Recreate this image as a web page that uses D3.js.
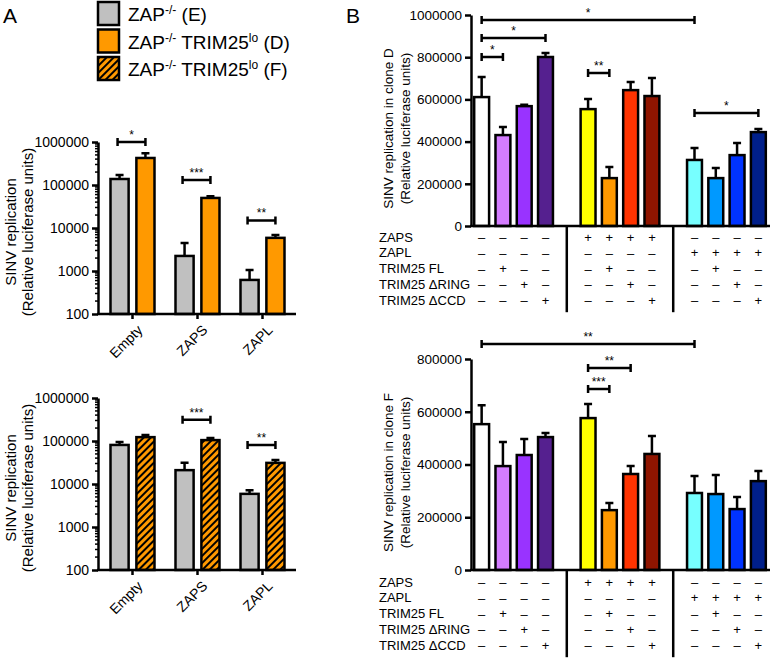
<!DOCTYPE html>
<html>
<head>
<meta charset="utf-8">
<script src="https://cdn.jsdelivr.net/npm/d3@7"></script>
<style>
  body { margin: 0; background: #fff; }
  svg { display: block; }
  text { font-family: "Liberation Sans", Arial, sans-serif; fill: #000; }
</style>
</head>
<body>
<svg id="fig" width="772" height="660"></svg>
<script>
// ---- panel A data (log scale) ----
var groupsA = ['Empty', 'ZAPS', 'ZAPL'];
var logTicks = [100, 1000, 10000, 100000, 1000000];
var topE = [138000, 2240, 620], topE_err = [32000, 2230, 430];
var topD = [425000, 50000, 5900], topD_err = [125000, 5000, 1000];
var botE = [81000, 21000, 5900], botE_err = [14000, 10000, 1300];
var botF = [123000, 105000, 31000], botF_err = [15000, 12000, 5000];
var sigTopA = [{g: 0, y: 1000000, t: '*'}, {g: 1, y: 130000, t: '***'}, {g: 2, y: 15000, t: '**'}];
var sigBotA = [{g: 1, y: 310000, t: '***'}, {g: 2, y: 81000, t: '**'}];

// ---- panel B data (linear) ----
var barColors = ['#ffffff', '#d47cff', '#9933ff', '#55208f',
                 '#ffff00', '#ff9900', '#ff3300', '#8f1500',
                 '#77ffff', '#0099ff', '#0033ff', '#001f8a'];
var cloneD = [611000, 431000, 568000, 801000, 554000, 227000, 644000, 616000, 313000, 227000, 336000, 445000];
var cloneD_err = [95000, 38000, 7000, 19000, 48000, 53000, 38000, 85000, 57000, 48000, 57000, 15000];
var cloneF = [553000, 394000, 436000, 504000, 576000, 227000, 364000, 440000, 292000, 288000, 231000, 337000];
var cloneF_err = [72000, 91000, 61000, 15000, 53000, 27000, 30000, 68000, 64000, 72000, 46000, 38000];
var ticksD = [0, 200000, 400000, 600000, 800000, 1000000];
var ticksF = [0, 200000, 400000, 600000, 800000];
var sigD = [{a: 0, b: 8, y: 976000, t: '*'}, {a: 0, b: 3, y: 891000, t: '*'}, {a: 0, b: 1, y: 801000, t: '*'},
            {a: 4, b: 5, y: 725000, t: '**'}, {a: 8, b: 11, y: 536000, t: '*'}];
var sigF = [{a: 0, b: 8, y: 857000, t: '**'}, {a: 4, b: 6, y: 766000, t: '**'}, {a: 4, b: 5, y: 686000, t: '***'}];
var rowLabels = ['ZAPS', 'ZAPL', 'TRIM25 FL', 'TRIM25 \u0394RING', 'TRIM25 \u0394CCD'];
var rowSigns = ['----++++----',
                '--------++++',
                '-+---+---+--',
                '--+---+---+-',
                '---+---+---+'];

var GRAY = '#c0c0c0', ORANGE = '#ff9900', SW = 2.5;
var svg = d3.select('#fig');

// hatch for clone F
var pat = svg.append('defs').append('pattern')
  .attr('id', 'hatch').attr('patternUnits', 'userSpaceOnUse')
  .attr('width', 5).attr('height', 5).attr('patternTransform', 'rotate(45)');
pat.append('rect').attr('width', 5).attr('height', 5).attr('fill', ORANGE);
pat.append('line').attr('x1', 1).attr('y1', 0).attr('x2', 1).attr('y2', 5)
  .attr('stroke', '#000').attr('stroke-width', 2);

function styleAxis(a, fs) {
  a.select('.domain').attr('stroke-width', SW);
  a.selectAll('.tick line').attr('stroke-width', SW);
  a.selectAll('.tick text').attr('font-size', fs).attr('font-family', '"Liberation Sans", Arial, sans-serif');
}

function bracket(g, x1, x2, y, label) {
  g.append('path')
    .attr('d', 'M' + x1 + ',' + (y - 4) + 'V' + (y + 4) + 'M' + x1 + ',' + y + 'H' + x2 + 'M' + x2 + ',' + (y - 4) + 'V' + (y + 4))
    .attr('fill', 'none').attr('stroke', '#000').attr('stroke-width', SW);
  g.append('text').attr('x', (x1 + x2) / 2).attr('y', y - 3)
    .attr('text-anchor', 'middle').attr('font-size', 12).text(label);
}

function errBar(g, cx, y1, y2) {
  g.append('path').attr('d', 'M' + cx + ',' + y1 + 'V' + y2 + 'M' + (cx - 4) + ',' + y2 + 'H' + (cx + 4))
    .attr('fill', 'none').attr('stroke', '#000').attr('stroke-width', SW);
}

function yLabel(g, x, cy, lines, fs) {
  lines.forEach(function(s, i) {
    g.append('text').attr('transform', 'translate(' + (x + i * 17) + ',' + cy + ') rotate(-90)')
      .attr('text-anchor', 'middle').attr('font-size', fs).text(s);
  });
}

function panelA(yTop, yBot, s1, e1, s2, e2, fill2, sig) {
  var g = svg.append('g');
  var y = d3.scaleLog().domain([100, 1000000]).range([yBot, yTop]);
  var x = d3.scaleBand().domain(groupsA).range([100, 295]);
  var xs = d3.scaleBand().domain([0, 1]).range([-22, 22]).paddingInner(0.3);
  var series = [{v: s1, e: e1, f: GRAY}, {v: s2, e: e2, f: fill2}];

  series.forEach(function(s, k) {
    groupsA.forEach(function(c, i) {
      var cx = x(c) + x.bandwidth() / 2 + xs(k) + xs.bandwidth() / 2;
      errBar(g, cx, y(s.v[i]), y(s.v[i] + s.e[i]));
      g.append('rect').attr('x', x(c) + x.bandwidth() / 2 + xs(k)).attr('width', xs.bandwidth())
        .attr('y', y(s.v[i])).attr('height', y(100) - y(s.v[i]))
        .attr('fill', s.f).attr('stroke', '#000').attr('stroke-width', SW);
    });
  });

  // minor log ticks
  var minor = [];
  [100, 1000, 10000, 100000].forEach(function(d) {
    for (var k = 2; k <= 9; k++) minor.push(d * k);
  });
  g.selectAll('.minor').data(minor).enter().append('line')
    .attr('x1', 95).attr('x2', 98).attr('y1', y).attr('y2', y)
    .attr('stroke', '#000').attr('stroke-width', 1.5);

  var ax = g.append('g').attr('transform', 'translate(98,0)')
    .call(d3.axisLeft(y).tickValues(logTicks).tickFormat(d3.format('d')).tickSize(6).tickSizeOuter(0));
  styleAxis(ax, 14);

  g.append('line').attr('x1', 97).attr('x2', 296).attr('y1', yBot).attr('y2', yBot)
    .attr('stroke', '#000').attr('stroke-width', SW);
  groupsA.forEach(function(c) {
    var cx = x(c) + x.bandwidth() / 2;
    g.append('line').attr('x1', cx).attr('x2', cx).attr('y1', yBot).attr('y2', yBot + 5)
      .attr('stroke', '#000').attr('stroke-width', SW);
    g.append('text').attr('transform', 'translate(' + (cx + 4) + ',' + (yBot + 10) + ') rotate(-45)')
      .attr('text-anchor', 'end').attr('dy', '0.7em').attr('font-size', 14).text(c);
  });

  sig.forEach(function(s) {
    var c = x(groupsA[s.g]) + x.bandwidth() / 2;
    bracket(g, c + xs(0) + xs.bandwidth() / 2 - 2, c + xs(1) + xs.bandwidth() / 2, y(s.y), s.t);
  });

  yLabel(g, 16, (yTop + yBot) / 2 + 4, ['SINV replication', '(Relative luciferase units)'], 15);
}

function panelB(yTop, yBot, maxV, ticks, vals, errs, sig, cloneName, rowTop) {
  var g = svg.append('g');
  var y = d3.scaleLinear().domain([0, maxV]).range([yBot, yTop]);
  var x = d3.scaleBand().domain(d3.range(14)).range([471, 769]).paddingInner(0.3).paddingOuter(0.15);
  var slot = function(i) { return i + (i >= 4 ? 1 : 0) + (i >= 8 ? 1 : 0); };
  var cx = function(i) { return x(slot(i)) + x.bandwidth() / 2; };

  vals.forEach(function(v, i) {
    errBar(g, cx(i), y(v), y(v + errs[i]));
    g.append('rect').attr('x', x(slot(i))).attr('width', x.bandwidth())
      .attr('y', y(v)).attr('height', y(0) - y(v))
      .attr('fill', barColors[i]).attr('stroke', '#000').attr('stroke-width', SW);
  });

  var ax = g.append('g').attr('transform', 'translate(471,0)')
    .call(d3.axisLeft(y).tickValues(ticks).tickFormat(d3.format('d')).tickSize(6).tickSizeOuter(0));
  styleAxis(ax, 13.5);
  g.append('line').attr('x1', 470).attr('x2', 770).attr('y1', yBot).attr('y2', yBot)
    .attr('stroke', '#000').attr('stroke-width', SW);

  sig.forEach(function(s) { bracket(g, cx(s.a), cx(s.b), y(s.y), s.t); });

  yLabel(g, 393, (yTop + yBot) / 2 + 8, ['SINV replication in clone ' + cloneName, '(Relative luciferase units)'], 13.5);

  // condition table
  var rowStep = 15.8;
  rowLabels.forEach(function(lab, r) {
    var ry = rowTop + r * rowStep;
    g.append('text').attr('x', 379).attr('y', ry).attr('dy', '0.35em').attr('font-size', 13).text(lab);
    rowSigns[r].split('').forEach(function(s, i) {
      g.append('text').attr('x', cx(i)).attr('y', ry + (s === '-' ? 0.5 : 0)).attr('dy', '0.35em')
        .attr('text-anchor', 'middle').attr('font-size', 13).text(s === '-' ? '\u2013' : '+');
    });
  });
  [4, 9].forEach(function(sl) {
    var sx = x(sl) + x.bandwidth() / 2;
    g.append('line').attr('x1', sx).attr('x2', sx).attr('y1', yBot).attr('y2', rowTop + 4 * rowStep + 12)
      .attr('stroke', '#000').attr('stroke-width', SW);
  });
}

panelA(142, 314, topE, topE_err, topD, topD_err, ORANGE, sigTopA);
panelA(398, 570, botE, botE_err, botF, botF_err, 'url(#hatch)', sigBotA);
panelB(15, 226, 1000000, ticksD, cloneD, cloneD_err, sigD, 'D', 237);
panelB(359, 570, 800000, ticksF, cloneF, cloneF_err, sigF, 'F', 582);

// panel letters
svg.append('text').attr('x', 3).attr('y', 23).attr('font-size', 21).text('A');
svg.append('text').attr('x', 346).attr('y', 23).attr('font-size', 21).text('B');

// legend
var legend = [
  {f: GRAY, main: 'ZAP', sup: '-/-', rest: ' (E)'},
  {f: ORANGE, main: 'ZAP', sup: '-/-', rest: ' TRIM25', sup2: 'lo', rest2: ' (D)'},
  {f: 'url(#hatch)', main: 'ZAP', sup: '-/-', rest: ' TRIM25', sup2: 'lo', rest2: ' (F)'}
];
legend.forEach(function(d, i) {
  var ly = 2 + i * 27.5;
  svg.append('rect').attr('x', 98).attr('y', ly).attr('width', 21).attr('height', 23)
    .attr('fill', d.f).attr('stroke', '#000').attr('stroke-width', SW);
  var t = svg.append('text').attr('x', 128).attr('y', ly + 19).attr('font-size', 19);
  t.append('tspan').text(d.main);
  t.append('tspan').attr('font-size', 12).attr('dy', -7).text(d.sup);
  t.append('tspan').attr('dy', 7).text(d.rest);
  if (d.sup2) {
    t.append('tspan').attr('font-size', 12).attr('dy', -7).text(d.sup2);
    t.append('tspan').attr('dy', 7).text(d.rest2);
  }
});
</script>
</body>
</html>
